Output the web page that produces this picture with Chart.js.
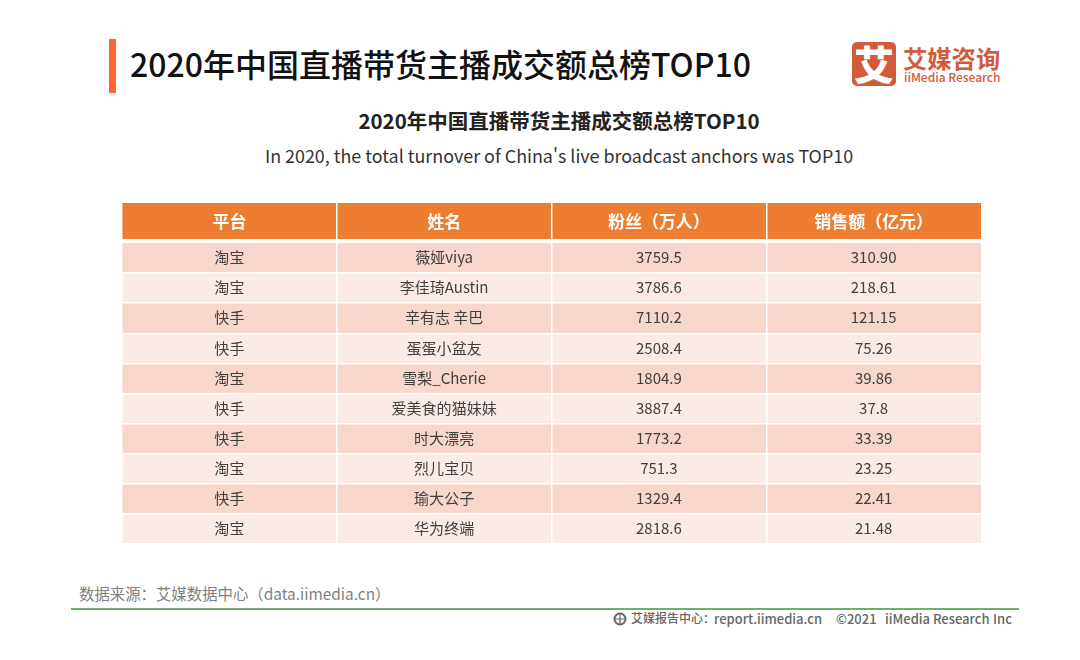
<!DOCTYPE html>
<html lang="zh">
<head>
    <meta charset="UTF-8">
    <title>2020年中国直播带货主播成交额总榜TOP10</title>
    <script src="https://cdn.jsdelivr.net/npm/chart.js"></script>
    <style>
        html, body { margin: 0; padding: 0; background: #fff; overflow: hidden; }
        body { width: 1080px; height: 660px; position: relative; font-family: "Noto Sans CJK SC", "Noto Sans", sans-serif; }
        .abs { position: absolute; white-space: pre; line-height: 1; }
        .foot { top: 612px; font-weight: 500; color: #666; font-size: 13px; }
        canvas { position: absolute; }
    </style>
</head>
<body>
    <div class="abs" style="left:109px;top:39px;width:7px;height:54px;background:#ff6633"></div>
    <div class="abs" style="left:130px;top:47px;font-size:32px;font-weight:500;color:#111">2020年中国直播带货主播成交额总榜TOP10</div>

    <div class="abs" style="left:852px;top:42px;width:44px;height:44px;border-radius:5px;background:#d35b3a;color:#fff;font-size:40px;font-weight:900;line-height:43px;text-align:center">艾</div>
    <div class="abs" style="left:903px;top:46px;font-size:24.3px;font-weight:700;color:#d35b3a">艾媒咨询</div>
    <div class="abs" style="left:904px;top:71px;font-size:12px;font-weight:500;color:#d35b3a">iiMedia Research</div>

    <div class="abs" style="left:0;width:1118px;top:110px;text-align:center;font-size:20.5px;font-weight:700;color:#222">2020年中国直播带货主播成交额总榜TOP10</div>
    <div class="abs" style="left:0;width:1118px;top:147px;text-align:center;font-size:17.9px;color:#333">In 2020, the total turnover of China's live broadcast anchors was TOP10</div>

    <canvas id="headChart" width="859" height="37" style="left:122px;top:203px"></canvas>
    <canvas id="bodyChart" width="859" height="301" style="left:122px;top:243px"></canvas>

    <div class="abs" style="left:79px;top:586px;font-size:15.4px;color:#7f7f7f">数据来源&#xFF1A;艾媒数据中心&#xFF08;data.iimedia.cn&#xFF09;</div>
    <div class="abs" style="left:71px;top:608px;width:948px;height:2px;background:#70ad70"></div>
    <svg class="abs" style="left:613px;top:612px" width="14" height="14" viewBox="0 0 14 14">
        <circle cx="7" cy="7" r="5.5" fill="none" stroke="#666" stroke-width="2"/>
        <path d="M2 7h10M7 2v10" stroke="#666" stroke-width="1.2"/>
    </svg>
    <div class="abs foot" style="left:631px;font-size:12px">艾媒报告中心&#xFF1A;</div>
    <div class="abs foot" style="left:714px">report.iimedia.cn</div>
    <div class="abs foot" style="left:836px">©2021</div>
    <div class="abs foot" style="left:885px">iiMedia Research</div>
    <div class="abs foot" style="left:993px">Inc</div>

    <script>
        const headers = ['平台', '姓名', '粉丝\uFF08万人\uFF09', '销售额\uFF08亿元\uFF09'];
        const platforms = ['淘宝', '淘宝', '快手', '快手', '淘宝', '快手', '快手', '淘宝', '快手', '淘宝'];
        const anchors = ['薇娅viya', '李佳琦Austin', '辛有志 辛巴', '蛋蛋小盆友', '雪梨_Cherie', '爱美食的猫妹妹', '时大漂亮', '烈儿宝贝', '瑜大公子', '华为终端'];
        const fans = ['3759.5', '3786.6', '7110.2', '2508.4', '1804.9', '3887.4', '1773.2', '751.3', '1329.4', '2818.6'];
        const sales = ['310.90', '218.61', '121.15', '75.26', '39.86', '37.8', '33.39', '23.25', '22.41', '21.48'];

        // every cell is a bar one column wide, stacked along the row
        function tableChart(id, columns, fill, font, textColor, textShift) {
            const rows = columns[0].map((_, i) => i);
            new Chart(document.getElementById(id), {
                type: 'bar',
                data: {
                    labels: rows,
                    datasets: columns.map(() => ({
                        data: rows.map(() => 1),
                        backgroundColor: ctx => fill(ctx.dataIndex),
                        barPercentage: 1,
                        categoryPercentage: 1
                    }))
                },
                options: {
                    indexAxis: 'y',
                    responsive: false,
                    animation: false,
                    devicePixelRatio: 1,
                    layout: { padding: 0 },
                    plugins: { legend: { display: false }, tooltip: { enabled: false } },
                    scales: {
                        x: {
                            stacked: true, min: 0, max: columns.length,
                            ticks: { display: false, stepSize: 1 },
                            border: { display: false },
                            grid: {
                                // no white line on the outer edges of the table
                                color: ctx => (ctx.index === 0 || ctx.index === columns.length) ? 'rgba(0,0,0,0)' : '#fff',
                                lineWidth: 1.5, drawTicks: false, z: 1
                            }
                        },
                        y: {
                            stacked: true,
                            ticks: { display: false },
                            border: { display: false },
                            grid: {
                                color: ctx => (ctx.index === 0 || ctx.index === rows.length) ? 'rgba(0,0,0,0)' : '#fff',
                                lineWidth: 1.5, drawTicks: false, offset: true, z: 1
                            }
                        }
                    }
                },
                plugins: [{
                    id: 'cellText',
                    afterDraw(chart) {
                        const c = chart.ctx;
                        c.save();
                        c.font = font;
                        c.fillStyle = textColor;
                        c.textAlign = 'center';
                        c.textBaseline = 'middle';
                        columns.forEach((col, d) => col.forEach((text, r) => {
                            c.fillText(text, chart.scales.x.getPixelForValue(d + 0.5), chart.scales.y.getPixelForValue(r) + textShift);
                        }));
                        c.restore();
                    }
                }]
            });
        }

        tableChart('headChart', headers.map(h => [h]), () => '#ed7d31',
            '700 17px "Noto Sans CJK SC"', '#fff', 0.5);
        tableChart('bodyChart', [platforms, anchors, fans, sales], r => r % 2 ? '#fbebe6' : '#f7d6cb',
            '400 15px "Noto Sans CJK SC"', '#404040', -0.5);
    </script>
</body>
</html>
